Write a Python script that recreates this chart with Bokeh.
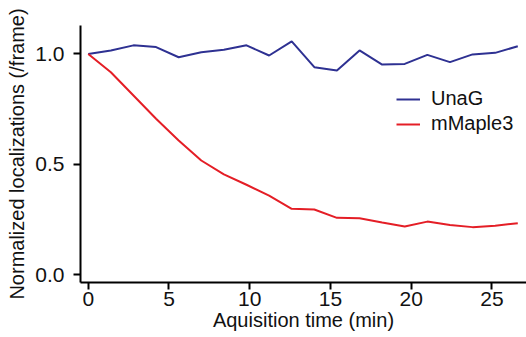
from bokeh.plotting import figure
from bokeh.models import FixedTicker, NumeralTickFormatter, Range1d, Legend, LegendItem
from bokeh.embed import file_html
from bokeh.resources import INLINE

time_min = [0, 1.4, 2.8, 4.2, 5.6, 7.0, 8.4, 9.8, 11.2, 12.6, 14.0, 15.4, 16.8, 18.2, 19.6, 21.0, 22.4, 23.8, 25.2, 26.6]
unag = [1.0, 1.016, 1.039, 1.031, 0.985, 1.008, 1.019, 1.039, 0.993, 1.057, 0.940, 0.925, 1.016, 0.952, 0.955, 0.996, 0.963, 0.998, 1.005, 1.035]
mmaple3 = [1.0, 0.917, 0.812, 0.706, 0.608, 0.517, 0.454, 0.407, 0.358, 0.298, 0.295, 0.257, 0.255, 0.236, 0.218, 0.240, 0.225, 0.215, 0.221, 0.233]
x_ticks = [0, 5, 10, 15, 20, 25]
y_ticks = [0.0, 0.5, 1.0]

FONT = "Liberation Sans"

p = figure(width=526, height=337, output_backend="svg", toolbar_location=None,
           x_range=Range1d(-0.48, 27.14), y_range=Range1d(-0.036, 1.129),
           min_border_left=80, min_border_right=0, min_border_top=25, min_border_bottom=55)
p.outline_line_color = None
p.grid.visible = False
p.background_fill_color = "white"
p.border_fill_color = "white"

r1 = p.line(time_min, unag, line_color="#2e3192", line_width=2)
r2 = p.line(time_min, mmaple3, line_color="#e41e26", line_width=2)

for ax in (p.xaxis[0], p.yaxis[0]):
    ax.axis_line_width = 2
    ax.axis_line_color = "black"
    ax.major_tick_line_width = 2
    ax.major_tick_line_color = "black"
    ax.major_tick_out = 7
    ax.major_tick_in = 0
    ax.minor_tick_line_color = None
    ax.major_label_text_font = FONT
    ax.major_label_text_font_size = "21px"
    ax.major_label_text_color = "#111111"
    ax.axis_label_text_font = FONT
    ax.axis_label_text_font_size = "20px"
    ax.axis_label_text_font_style = "normal"
    ax.axis_label_text_color = "#111111"

p.xaxis.ticker = FixedTicker(ticks=x_ticks)
p.yaxis.ticker = FixedTicker(ticks=y_ticks)
p.yaxis.formatter = NumeralTickFormatter(format="0.0")
p.xaxis.axis_label = "Aquisition time (min)"
p.yaxis.axis_label = "Normalized localizations (/frame)"
p.xaxis.major_label_standoff = 2
p.xaxis.axis_label_standoff = 0
p.yaxis.major_label_standoff = 9
p.yaxis.axis_label_standoff = 4

legend = Legend(items=[LegendItem(label="UnaG", renderers=[r1]),
                       LegendItem(label="mMaple3", renderers=[r2])],
                location=(316, 147), border_line_color=None, background_fill_alpha=0,
                label_text_font=FONT, label_text_font_size="20px", label_text_color="#111111",
                glyph_width=24, label_standoff=11, spacing=2, padding=0, margin=0)
p.add_layout(legend)

open("out.html", "w").write(file_html(p, INLINE))
